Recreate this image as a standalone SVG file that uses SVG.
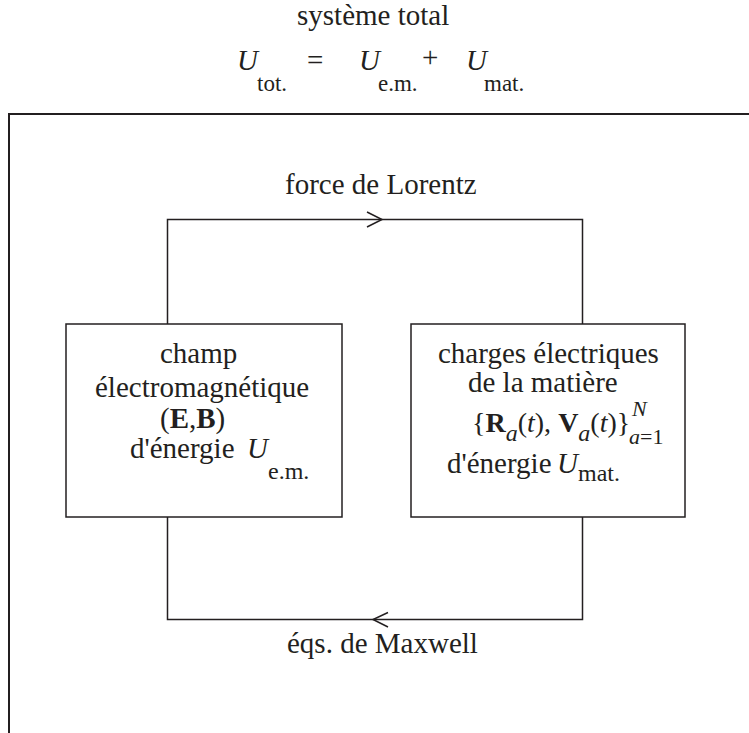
<svg xmlns="http://www.w3.org/2000/svg" width="749" height="733" viewBox="0 0 749 733">
<defs>
<style>
text{font-family:"Liberation Serif","Times New Roman",serif;fill:#231f20;font-size:29px}
.i{font-style:italic}
.b{font-weight:bold}
.s{font-size:23px}
.t{font-size:24px}
.u{font-size:22px}
.m{font-size:28px}
.box{fill:none;stroke:#231f20;stroke-width:1.5}
.ln{fill:none;stroke:#231f20;stroke-width:1.5}
.frame{fill:none;stroke:#231f20;stroke-width:2}
</style>
</defs>
<rect width="749" height="733" fill="#fff"/>
<g id="title">
<text x="297" y="25">système total</text>
<text x="237" y="70" class="i">U</text><text x="257" y="91" class="s">tot.</text>
<text x="307" y="70">=</text>
<text x="359" y="70" class="i">U</text><text x="378" y="91" class="s">e.m.</text>
<text x="422" y="67">+</text>
<text x="466" y="70" class="i">U</text><text x="484" y="91" class="s">mat.</text>
</g>
<g id="frame"><path class="frame" d="M9,733 V114 H749"/></g>
<g id="connectors">
<path class="ln" d="M167.5,324 V219.5 H582.5 V324"/>
<path class="ln" d="M367,212 L382,219.5 L367,227"/>
<path class="ln" d="M167.5,517 V619.5 H582.5 V517"/>
<path class="ln" d="M388,612.5 L373,619.5 L388,627"/>
<text x="285" y="194">force de Lorentz</text>
<text x="287" y="653">éqs. de Maxwell</text>
</g>
<g id="champ">
<rect class="box" x="66" y="324" width="276" height="193"/>
<text x="160" y="363">champ</text>
<text x="95" y="397">électromagnétique</text>
<text x="160" y="428">(<tspan class="b">E</tspan>,<tspan class="b">B</tspan>)</text>
<text x="130" y="458">d'énergie</text>
<text x="247" y="458" class="i">U</text><text x="268" y="479" class="t">e.m.</text>
</g>
<g id="charges">
<rect class="box" x="411" y="324" width="274" height="193"/>
<text x="438" y="363">charges électriques</text>
<text x="468" y="392">de la matière</text>
<text x="472" y="432" class="m">{<tspan class="b">R</tspan><tspan class="i t" dy="9">a</tspan><tspan dy="-9">(</tspan><tspan class="i">t</tspan>), <tspan class="b">V</tspan><tspan class="i t" dy="9">a</tspan><tspan dy="-9">(</tspan><tspan class="i">t</tspan>)}</text>
<text x="632" y="416" class="i u">N</text>
<text x="629" y="444" class="u"><tspan class="i">a</tspan>=1</text>
<text x="447" y="473">d'énergie</text>
<text x="557" y="473" class="i">U</text><text x="578" y="481" class="t">mat.</text>
</g>
</svg>
